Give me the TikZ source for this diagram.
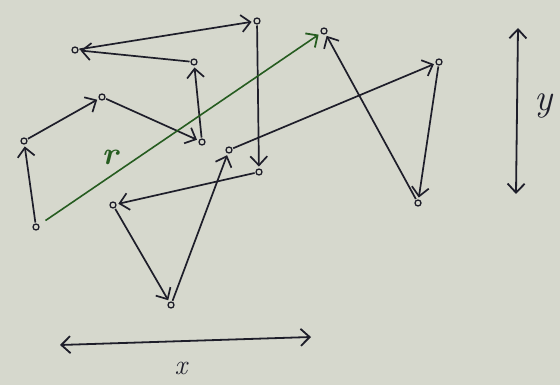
\documentclass[tikz,border=0pt]{standalone}
\usetikzlibrary{arrows.meta}
\definecolor{paper}{RGB}{214,216,205}
\definecolor{ink}{RGB}{30,30,42}
\definecolor{inkgreen}{RGB}{38,92,32}
\begin{document}
\begin{tikzpicture}[x=1pt,y=-1pt,
  dot/.style={circle,draw=ink,line width=1.3pt,minimum size=6pt,inner sep=0pt,outer sep=1.5pt},
  tip/.style={-{Straight Barb[length=9pt,width=17pt,line width=1.7pt]}},
  walk/.style={draw=ink,line width=1.7pt,tip,shorten >=1pt},
  axis/.style={draw=ink,line width=1.8pt,{Straight Barb[length=9pt,width=17pt,line width=1.8pt]}-{Straight Barb[length=9pt,width=17pt,line width=1.8pt]}},
  lbl/.style={text=ink,font=\itshape\fontsize{30}{32}\selectfont}]
\fill[paper] (0,0) rectangle (560,385);
\useasboundingbox (0,0) rectangle (560,385);
\node[dot] (p0) at (36,227) {};
\node[dot] (p1) at (24,141) {};
\node[dot] (p2) at (102,97) {};
\node[dot] (p3) at (202,142) {};
\node[dot] (p4) at (194,62) {};
\node[dot] (p5) at (75,50) {};
\node[dot] (p6) at (257,21) {};
\node[dot] (p7) at (259,172) {};
\node[dot] (p8) at (113,205) {};
\node[dot] (p9) at (171,305) {};
\node[dot] (p10) at (229,150) {};
\node[dot] (p11) at (439,62) {};
\node[dot] (p12) at (418,203) {};
\node[dot] (p13) at (324,31) {};
\draw[walk] (p0) -- (p1);
\draw[walk] (p1) -- (p2);
\draw[walk] (p2) -- (p3);
\draw[walk] (p3) -- (p4);
\draw[walk] (p4) -- (p5);
\draw[walk] (p5) -- (p6);
\draw[walk] (p6) -- (p7);
\draw[walk] (p7) -- (p8);
\draw[walk] (p8) -- (p9);
\draw[walk] (p9) -- (p10);
\draw[walk] (p10) -- (p11);
\draw[walk] (p11) -- (p12);
\draw[walk] (p12) -- (p13);
\draw[draw=inkgreen,line width=1.6pt,-{Straight Barb[length=9pt,width=17pt,line width=1.8pt]},shorten <=7pt,shorten >=2pt] (p0) -- (p13);
\node[lbl,text=inkgreen,font=\itshape\bfseries\fontsize{32}{34}\selectfont] (r) at (110,157) {r};
\coordinate (xl) at (60,345);
\coordinate (xr) at (311,337);
\draw[axis] (xl) -- (xr);
\node[lbl,font=\itshape\fontsize{28}{30}\selectfont] (x) at (181,368) {x};
\coordinate (yt) at (518,28);
\coordinate (yb) at (516,194);
\draw[axis] (yt) -- (yb);
\node[lbl,font=\itshape\fontsize{38}{40}\selectfont] (y) at (544,106) {y};
\end{tikzpicture}
\end{document}
